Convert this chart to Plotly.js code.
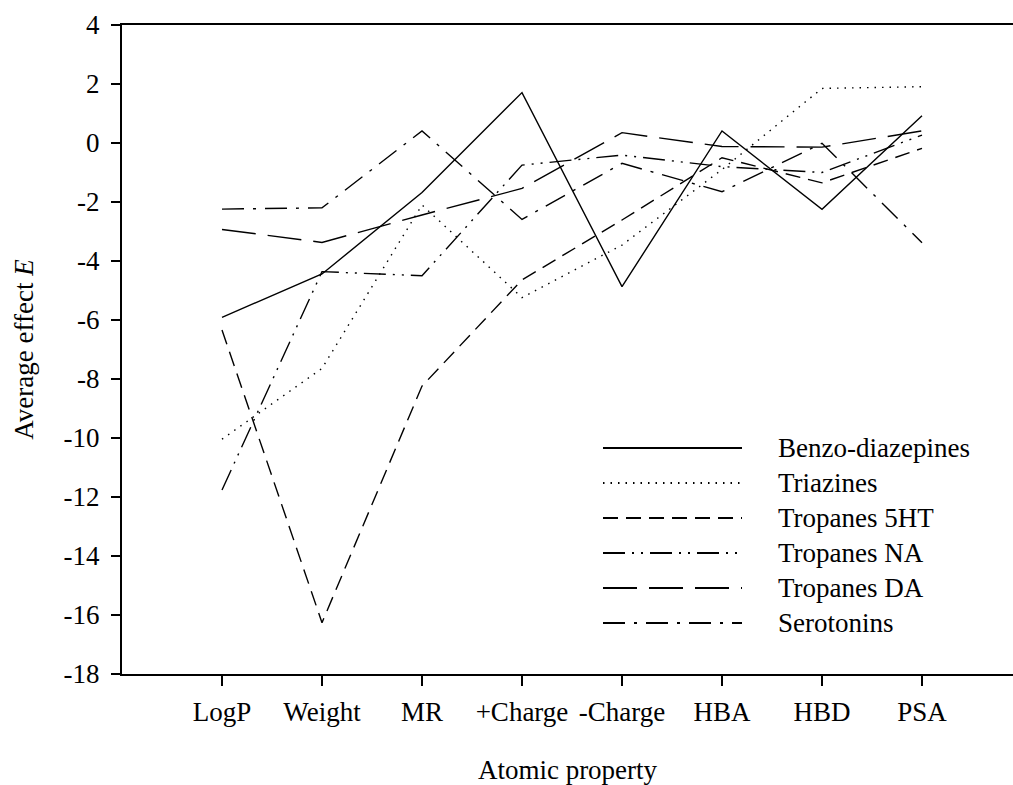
<!DOCTYPE html>
<html>
<head>
<meta charset="utf-8">
<script src="https://cdn.plot.ly/plotly-3.0.1.min.js"></script>
<style>html,body{margin:0;padding:0;background:#fff;}#chart{width:1013px;height:785px;}</style>
</head>
<body>
<div id="chart"></div>
<script>
const categories = ['LogP', 'Weight', 'MR', '+Charge', '-Charge', 'HBA', 'HBD', 'PSA'];
const seriesNames = ['Benzo-diazepines', 'Triazines', 'Tropanes 5HT', 'Tropanes NA', 'Tropanes DA', 'Serotonins'];
const benzo = [-5.91, -4.44, -1.68, 1.71, -4.87, 0.41, -2.25, 0.92];
const triazines = [-10.04, -7.64, -2.10, -5.24, -3.46, -0.90, 1.85, 1.91];
const tropanes5HT = [-6.34, -16.26, -8.24, -4.64, -2.61, -0.50, -1.35, -0.18];
const tropanesNA = [-11.76, -4.36, -4.50, -0.75, -0.41, -0.80, -1.00, 0.27];
const tropanesDA = [-2.93, -3.37, -2.44, -1.54, 0.35, -0.12, -0.14, 0.41];
const serotonins = [-2.24, -2.20, 0.41, -2.59, -0.69, -1.65, -0.01, -3.38];
const yTickVals = [4, 2, 0, -2, -4, -6, -8, -10, -12, -14, -16, -18];
const yTickText = ['4', '2', '0', '-2', '-4', '-6', '-8', '-10', '-12', '-14', '-16', '-18'];

const allSeries = [benzo, triazines, tropanes5HT, tropanesNA, tropanesDA, serotonins];
const dashes = ['solid', '1.5px,6px', '15px,8px', '22px,7px,2px,7px,2px,7px', '34px,12px', '22px,9px,3px,9px'];
const FONT = '"Liberation Serif", "Times New Roman", Times, serif';

const traces = allSeries.map((vals, i) => ({
  type: 'scatter', mode: 'lines', x: categories, y: vals, name: seriesNames[i],
  line: {color: '#000', width: 1.4, dash: dashes[i]}, showlegend: false, hoverinfo: 'skip'
}));

// custom legend (long line samples)
const plotL = 122, plotW = 891, plotT = 25, plotH = 649;
const px2x = p => (p - plotL) / plotW;
const px2y = p => (plotT + plotH - p) / plotH;
const shapes = [];
const annotations = [];
seriesNames.forEach((nm, i) => {
  const yy = px2y(448 + 35 * i);
  shapes.push({type: 'line', xref: 'paper', yref: 'paper', x0: px2x(603), x1: px2x(742), y0: yy, y1: yy,
    line: {color: '#000', width: 2, dash: dashes[i]}});
  annotations.push({xref: 'paper', yref: 'paper', x: px2x(776), y: yy, xanchor: 'left', yanchor: 'middle',
    text: nm, showarrow: false, font: {family: FONT, size: 27, color: '#000'}});
});

const layout = {
  width: 1013, height: 785,
  margin: {l: plotL, r: 0, t: plotT, b: 785 - plotT - plotH, pad: 0},
  paper_bgcolor: '#fff', plot_bgcolor: '#fff',
  font: {family: FONT, size: 27, color: '#000'},
  showlegend: false,
  xaxis: {
    type: 'category', range: [-1, 7.91], showgrid: false, zeroline: false,
    showline: true, linecolor: '#000', linewidth: 2, mirror: true,
    ticks: 'outside', ticklen: 10, tickwidth: 2, tickcolor: '#000', ticklabelstandoff: 3,
    tickfont: {family: FONT, size: 27, color: '#000'},
    title: {text: 'Atomic property', font: {family: FONT, size: 27, color: '#000'}, standoff: 38},
    automargin: false
  },
  yaxis: {
    range: [-18, 4], showgrid: false, zeroline: false,
    showline: true, linecolor: '#000', linewidth: 2,
    tickvals: yTickVals, ticktext: yTickText,
    ticks: 'outside', ticklen: 9, tickwidth: 2, tickcolor: '#000', ticklabelstandoff: 6,
    tickfont: {family: FONT, size: 27, color: '#000'},
    title: {text: 'Average effect <i>E</i>', font: {family: FONT, size: 27, color: '#000'}, standoff: 22},
    automargin: false
  },
  shapes: shapes,
  annotations: annotations
};

Plotly.newPlot('chart', traces, layout, {staticPlot: true, displayModeBar: false});
</script>
</body>
</html>
